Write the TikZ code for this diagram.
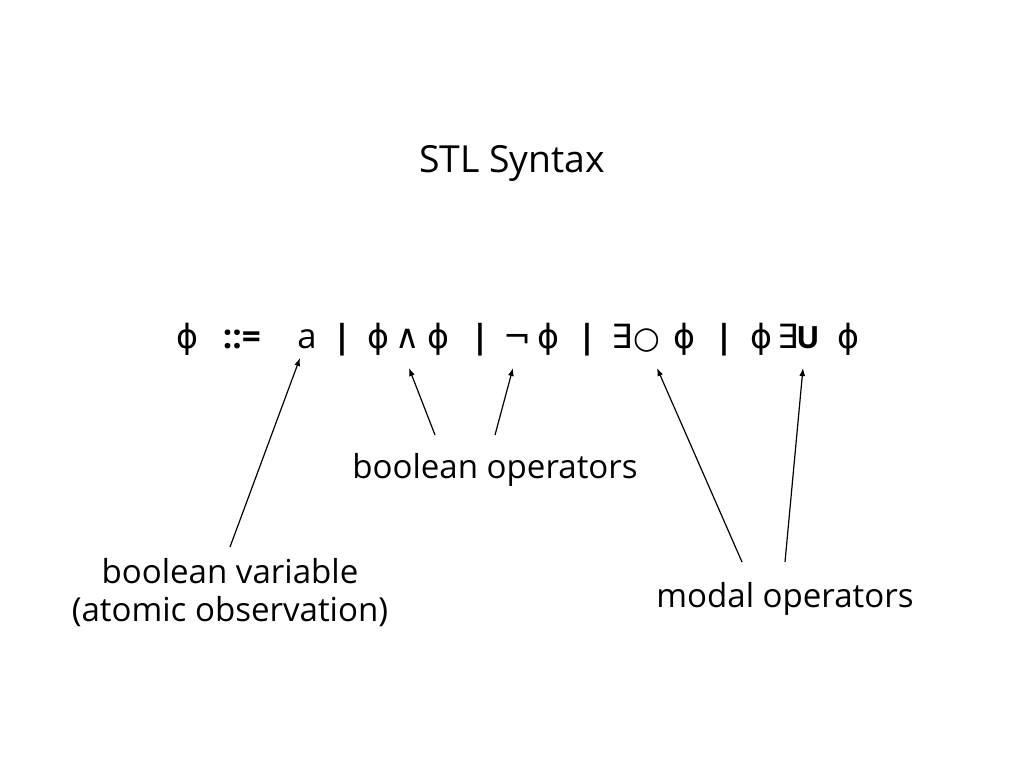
\documentclass[tikz,border=0pt]{standalone}
\usepackage{fontspec}
\setmainfont{Open Sans}
\newfontfamily\symfont{DejaVu Sans}
\usetikzlibrary{positioning, arrows.meta}

\begin{document}
\begin{tikzpicture}[x=0.75pt, y=-0.75pt, line width=0.9pt,
    >={Latex[length=6pt,width=4.5pt]},
    every node/.style={inner sep=0pt, font=\fontsize{24.8}{28.5}\selectfont},
    piece/.style={anchor=base, font=\fontsize{25}{28.5}\selectfont\bfseries},
    sym/.style={anchor=base, font=\fontsize{25}{28.5}\selectfont\symfont},
    note/.style={align=center}]
  \useasboundingbox (0,0) rectangle (1024,768);
  \node[font=\fontsize{28}{32}\selectfont] (title) at (512,163) {STL Syntax};
  % the grammar, one glyph at a time
  \foreach \x [count=\i] in {187,378,438,548,684,761,848}
    \node[sym] (phi\i) at (\x,348) {ϕ};
  \node[piece] (defeq) at (242,348) {::=};
  \node[piece, font=\fontsize{26}{28.5}\selectfont] (atom) at (307,348) {a};
  \node[piece] (bar1) at (342,348) {|};
  \node[sym] (conj) at (408,348) {∧};
  \node[piece] (bar2) at (480,348) {|};
  \node[sym] (negation) at (517,348) {¬};
  \node[piece] (bar3) at (587,348) {|};
  \node[sym] (exists1) at (622,348) {∃};
  \node[sym, font=\fontsize{23}{28.5}\selectfont\symfont] (nextop) at (647,348) {○};
  \node[piece] (bar4) at (724,348) {|};
  \node[sym] (exists2) at (788,348) {∃};
  \node[piece, font=\fontsize{23}{28.5}\selectfont\bfseries] (untilop) at (808,348) {U};
  % labels
  \node[note] (boolops) at (495,470) {boolean operators};
  \node[note] (boolvar) at (230,593) {boolean variable\\(atomic observation)};
  \node[note] (modalops) at (785,599) {modal operators};
  % arrow ends
  \coordinate (atomtip) at (300,358);
  \coordinate (conjtip) at (409,368);
  \coordinate (negtip) at (513,368);
  \coordinate (nexttip) at (657,368);
  \coordinate (untiltip) at (803,368);
  \coordinate (varfoot) at (230,547);
  \coordinate (conjfoot) at (435,435);
  \coordinate (negfoot) at (495,435);
  \coordinate (nextfoot) at (742,562);
  \coordinate (untilfoot) at (785,562);
  \draw[->] (varfoot) -- (atomtip);
  \draw[->] (conjfoot) -- (conjtip);
  \draw[->] (negfoot) -- (negtip);
  \draw[->] (nextfoot) -- (nexttip);
  \draw[->] (untilfoot) -- (untiltip);
\end{tikzpicture}
\end{document}
